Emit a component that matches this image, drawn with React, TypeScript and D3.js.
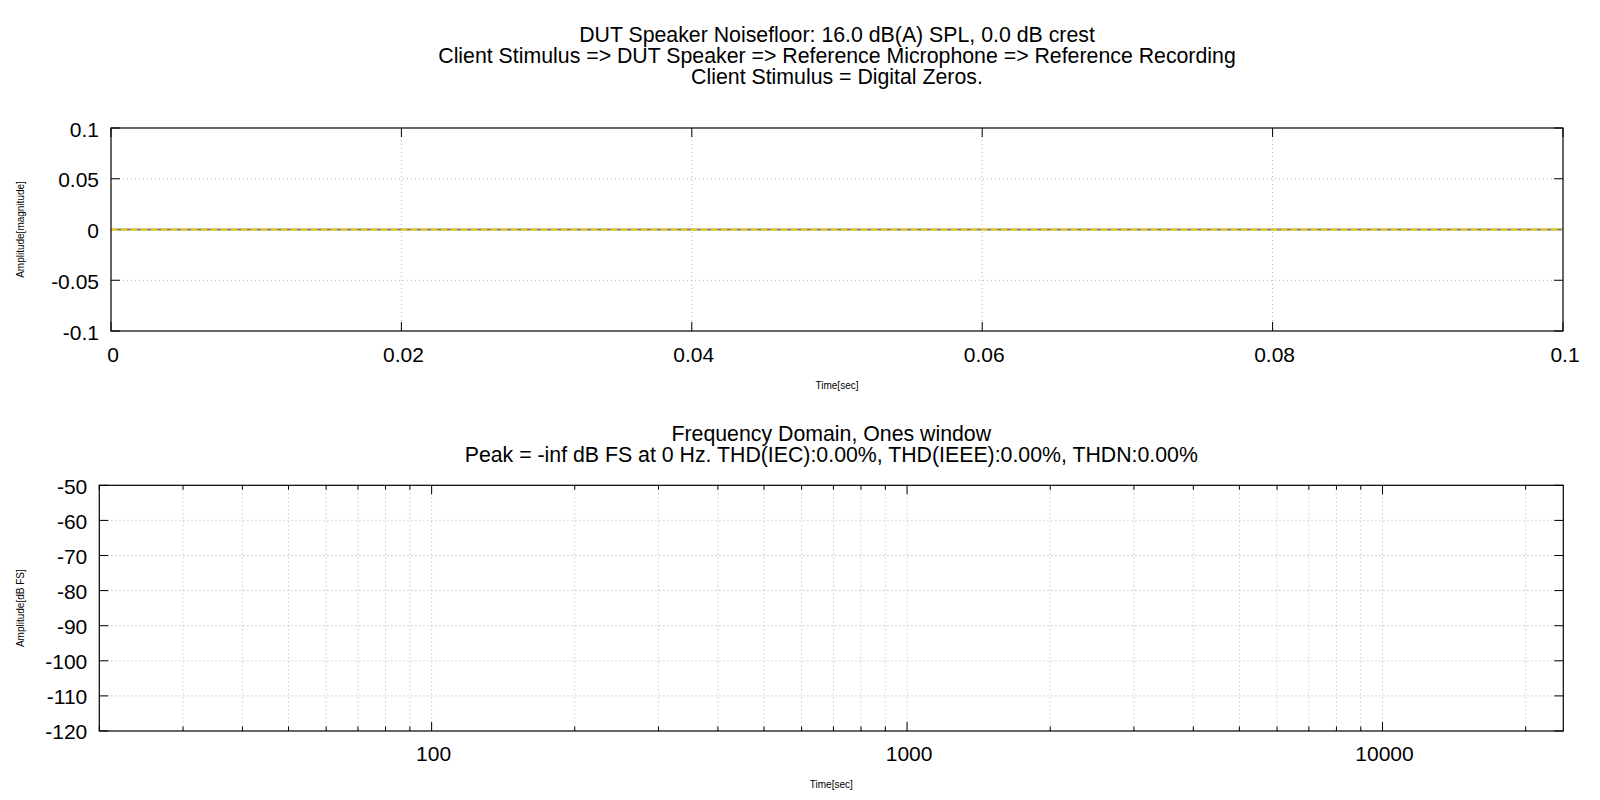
import React, { useEffect, useRef } from "react";
import * as d3 from "d3";

// time domain (digital zeros -> flat trace)
const timeSamples = [0, 0.02, 0.04, 0.06, 0.08, 0.1];
const traceGray = [0, 0, 0, 0, 0, 0];
const traceYellow = [0, 0, 0, 0, 0, 0];
const timeTicks = [0, 0.02, 0.04, 0.06, 0.08, 0.1];
const ampTicks = [-0.1, -0.05, 0, 0.05, 0.1];

// frequency domain (peak is -inf, nothing drawn)
const freqDomain = [20, 24000];
const freqLabels = [100, 1000, 10000];
const dbTicks = [-120, -110, -100, -90, -80, -70, -60, -50];

const titleLines = [
  "DUT Speaker Noisefloor: 16.0 dB(A) SPL, 0.0 dB crest",
  "Client Stimulus => DUT Speaker => Reference Microphone => Reference Recording",
  "Client Stimulus = Digital Zeros.",
];
const freqTitleLines = [
  "Frequency Domain, Ones window",
  "Peak = -inf dB FS at 0 Hz. THD(IEC):0.00%, THD(IEEE):0.00%, THDN:0.00%",
];

const FONT = "'Liberation Sans', Arial, Helvetica, sans-serif";
const BIG = `21px ${FONT}`;
const TITLE = `21.3px ${FONT}`;
const SMALL = `10px ${FONT}`;
const GRID = "#b4b4b4";

export default function App() {
  const ref = useRef<SVGSVGElement | null>(null);

  useEffect(() => {
    const svg = d3.select(ref.current as any);
    svg.selectAll("*").remove();
    svg.append("rect").attr("width", 1600).attr("height", 800).attr("fill", "#fff");

    const frame = (g: any, w: number, h: number) => {
      g.append("rect").attr("width", w).attr("height", h)
        .attr("fill", "none").attr("stroke", "#000").attr("stroke-width", 1.2);
    };

    // ---------- top: time domain ----------
    const t = { left: 111, top: 128, right: 1563, bottom: 331 };
    const tw = t.right - t.left, th = t.bottom - t.top;
    const x1 = d3.scaleLinear().domain([0, 0.1]).range([0, tw]);
    const y1 = d3.scaleLinear().domain([-0.1, 0.1]).range([th, 0]);
    const g1 = svg.append("g").attr("transform", `translate(${t.left},${t.top})`);

    g1.selectAll(".gx").data(timeTicks.slice(1, -1)).enter().append("line")
      .attr("x1", d => x1(d)).attr("x2", d => x1(d)).attr("y1", 0).attr("y2", th)
      .attr("stroke", GRID).attr("stroke-dasharray", "1,3");
    g1.selectAll(".gy").data(ampTicks.slice(1, -1)).enter().append("line")
      .attr("x1", 0).attr("x2", tw).attr("y1", d => y1(d)).attr("y2", d => y1(d))
      .attr("stroke", GRID).attr("stroke-dasharray", "1,3");

    timeTicks.forEach(v => {
      g1.append("line").attr("x1", x1(v)).attr("x2", x1(v)).attr("y1", th).attr("y2", th - 9).attr("stroke", "#000");
      g1.append("line").attr("x1", x1(v)).attr("x2", x1(v)).attr("y1", 0).attr("y2", 9).attr("stroke", "#000");
      g1.append("text").attr("x", x1(v) + 2).attr("y", th + 31).attr("text-anchor", "middle")
        .style("font", BIG).text(String(v));
    });
    ampTicks.forEach(v => {
      g1.append("line").attr("x1", 0).attr("x2", 9).attr("y1", y1(v)).attr("y2", y1(v)).attr("stroke", "#000");
      g1.append("line").attr("x1", tw).attr("x2", tw - 9).attr("y1", y1(v)).attr("y2", y1(v)).attr("stroke", "#000");
      g1.append("text").attr("x", -12).attr("y", y1(v) + 8.5).attr("text-anchor", "end")
        .style("font", BIG).text(String(v));
    });

    const line1 = d3.line<number>().x((_, i) => x1(timeSamples[i])).y(d => y1(d));
    g1.append("path").attr("d", line1(traceGray)).attr("fill", "none")
      .attr("stroke", "#7f7f7f").attr("stroke-width", 2);
    g1.append("path").attr("d", line1(traceYellow)).attr("fill", "none")
      .attr("stroke", "#f2d200").attr("stroke-width", 2).attr("stroke-dasharray", "6,4");
    frame(g1, tw, th);

    // ---------- bottom: frequency domain ----------
    const b = { left: 99.3, top: 485.3, right: 1563.3, bottom: 731 };
    const bw = b.right - b.left, bh = b.bottom - b.top;
    const x2 = d3.scaleLog().domain(freqDomain).range([0, bw]);
    const y2 = d3.scaleLinear().domain([-120, -50]).range([bh, 0]);
    const g2 = svg.append("g").attr("transform", `translate(${b.left},${b.top})`);
    const fTicks = x2.ticks();

    g2.selectAll(".gx").data(fTicks).enter().append("line")
      .attr("x1", d => x2(d)).attr("x2", d => x2(d)).attr("y1", 0).attr("y2", bh)
      .attr("stroke", GRID).attr("stroke-dasharray", "1,3");
    g2.selectAll(".gy").data(dbTicks.slice(1, -1)).enter().append("line")
      .attr("x1", 0).attr("x2", bw).attr("y1", d => y2(d)).attr("y2", d => y2(d))
      .attr("stroke", GRID).attr("stroke-dasharray", "1,3");

    fTicks.forEach(v => {
      const major = freqLabels.includes(v);
      const len = major ? 9 : 4.5;
      g2.append("line").attr("x1", x2(v)).attr("x2", x2(v)).attr("y1", bh).attr("y2", bh - len).attr("stroke", "#000");
      g2.append("line").attr("x1", x2(v)).attr("x2", x2(v)).attr("y1", 0).attr("y2", len).attr("stroke", "#000");
    });
    freqLabels.forEach(v => {
      g2.append("text").attr("x", x2(v) + 2).attr("y", bh + 30).attr("text-anchor", "middle")
        .style("font", BIG).text(String(v));
    });
    dbTicks.forEach(v => {
      g2.append("line").attr("x1", 0).attr("x2", 9).attr("y1", y2(v)).attr("y2", y2(v)).attr("stroke", "#000");
      g2.append("line").attr("x1", bw).attr("x2", bw - 9).attr("y1", y2(v)).attr("y2", y2(v)).attr("stroke", "#000");
      g2.append("text").attr("x", -12).attr("y", y2(v) + 8.5).attr("text-anchor", "end")
        .style("font", BIG).text(String(v));
    });
    frame(g2, bw, bh);

    // ---------- titles and axis labels ----------
    titleLines.forEach((s, i) => {
      svg.append("text").attr("x", (t.left + t.right) / 2).attr("y", 41.5 + i * 21.4)
        .attr("text-anchor", "middle").style("font", TITLE).text(s);
    });
    freqTitleLines.forEach((s, i) => {
      svg.append("text").attr("x", (b.left + b.right) / 2).attr("y", 440.5 + i * 21.4)
        .attr("text-anchor", "middle").style("font", TITLE).text(s);
    });

    svg.append("text").attr("x", (t.left + t.right) / 2).attr("y", 389)
      .attr("text-anchor", "middle").style("font", SMALL).text("Time[sec]");
    svg.append("text").attr("x", (b.left + b.right) / 2).attr("y", 788)
      .attr("text-anchor", "middle").style("font", SMALL).text("Time[sec]");
    svg.append("text").attr("transform", `translate(24,${(t.top + t.bottom) / 2}) rotate(-90)`)
      .attr("text-anchor", "middle").style("font", SMALL).text("Amplitude[magnitude]");
    svg.append("text").attr("transform", `translate(24,${(b.top + b.bottom) / 2}) rotate(-90)`)
      .attr("text-anchor", "middle").style("font", SMALL).text("Amplitude[dB FS]");
  }, []);

  return (
    <svg ref={ref} width={1600} height={800}
      style={{ position: "absolute", left: 0, top: 0, display: "block" }} />
  );
}
